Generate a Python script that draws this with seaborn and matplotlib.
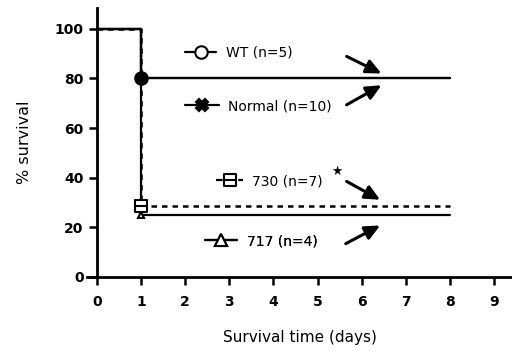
import numpy as np
import pandas as pd
import matplotlib
matplotlib.use('Agg')
import matplotlib.pyplot as plt
from matplotlib.path import Path
import seaborn as sns

# survival data (step curves)
days = [0, 1, 8]
groups = ['WT (n=5)', 'Normal (n=10)', '730 (n=7)', '717 (n=4)']
wt = [100, 80, 80]
normal = [100, 80, 80]
g730 = [100, 28.6, 28.6]
g717 = [100, 25, 25]
values = [wt, normal, g730, g717]

x_ticks = list(range(0, 10))
y_ticks = [0, 20, 40, 60, 80, 100]

sns.set_theme(style='ticks')
plt.rcParams['font.family'] = ['DejaVu Sans']
plt.rcParams['text.color'] = 'black'

df = pd.concat([pd.DataFrame({'day': days, 'survival': v, 'group': g})
                for g, v in zip(groups, values)], ignore_index=True)

# square with a bar through the middle
sq_bar = Path([(-1, -1), (1, -1), (1, 1), (-1, 1), (-1, -1), (-1, 0), (1, 0)],
              [Path.MOVETO, Path.LINETO, Path.LINETO, Path.LINETO,
               Path.CLOSEPOLY, Path.MOVETO, Path.LINETO])

styles = {
    'WT (n=5)': dict(marker='o', mfc='white', ls='-', ms=9, lw=1.6),
    'Normal (n=10)': dict(marker='X', mfc='black', ls='-', ms=6, lw=1.6),
    '730 (n=7)': dict(marker=sq_bar, mfc='white', ls=(0, (2.2, 2.0)), ms=9, lw=1.8),
    '717 (n=4)': dict(marker='^', mfc='white', ls='-', ms=4, lw=1.6),
}

fig = plt.figure(figsize=(5.12, 3.51), dpi=100)
ax = fig.add_axes([0.17, 0.2117, 0.83, 0.766])

for g in groups[::-1]:
    st = styles[g]
    sub = df[df['group'] == g]
    sns.lineplot(data=sub, x='day', y='survival', ax=ax, color='black',
                 drawstyle='steps-post', linestyle=st['ls'], linewidth=st['lw'],
                 marker=st['marker'], markerfacecolor=st['mfc'],
                 markeredgecolor='black', markeredgewidth=1.5,
                 markersize=st['ms'], markevery=[1], legend=False)

# the WT / Normal point looks like a filled dot
ax.lines[-1].set_markerfacecolor('black')

ax.set_xlim(-0.22, 9.4)
ax.set_ylim(0, 108.5)
ax.spines['left'].set_position(('data', 0))
for s in ['top', 'right']:
    ax.spines[s].set_visible(False)
for s in ['left', 'bottom']:
    ax.spines[s].set_linewidth(2)
    ax.spines[s].set_color('black')

ax.set_xticks(x_ticks)
ax.set_yticks(y_ticks)
ax.tick_params(axis='both', direction='out', length=6, width=1.8,
               colors='black', labelsize=10)
ax.tick_params(axis='x', pad=7)
for lab in ax.get_xticklabels() + ax.get_yticklabels():
    lab.set_fontweight('bold')
ax.set_xlabel('Survival time (days)', fontsize=11, labelpad=15, color='black')
ax.set_ylabel('% survival', fontsize=11.5, labelpad=16, color='black')

# legend keys placed next to the curves
key_pos = {
    'WT (n=5)': (1.85, 90.5),
    'Normal (n=10)': (1.85, 68.8),
    '730 (n=7)': (2.55, 38.5),
    '717 (n=4)': (2.3, 14.3),
}
key_len = {'WT (n=5)': 2.2, 'Normal (n=10)': 2.4, '730 (n=7)': 1.9,
           '717 (n=4)': 2.3}
for g in groups:
    st = styles[g]
    key_ls = (0, (3, 2)) if g == '730 (n=7)' else '-'
    kh = plt.Line2D([], [], color='black', linestyle=key_ls, linewidth=1.6,
                    marker=st['marker'], markerfacecolor=st['mfc'],
                    markeredgecolor='black', markeredgewidth=1.5,
                    markersize=9 if g != '730 (n=7)' else 8)
    leg = ax.legend(handles=[kh], labels=[g], loc='center left',
                    bbox_to_anchor=key_pos[g], bbox_transform=ax.transData,
                    frameon=False, handlelength=key_len[g],
                    handletextpad=0.7, borderpad=0, fontsize=10,
                    labelcolor='black')
    ax.add_artist(leg)

arrows = [((5.6, 89.4), (6.5, 81.5)), ((5.6, 68.8), (6.5, 77.8)),
          ((5.6, 39.0), (6.47, 30.5)), ((5.58, 12.8), (6.47, 21.2))]
for tail, head in arrows:
    ax.annotate('', xy=head, xytext=tail,
                arrowprops=dict(arrowstyle='-|>,head_length=0.75,head_width=0.35',
                                color='black', lw=2.2))
ax.text(5.44, 42.6, '\u2605', fontsize=9, ha='center', va='center')

fig.savefig('out.png', dpi=100)
